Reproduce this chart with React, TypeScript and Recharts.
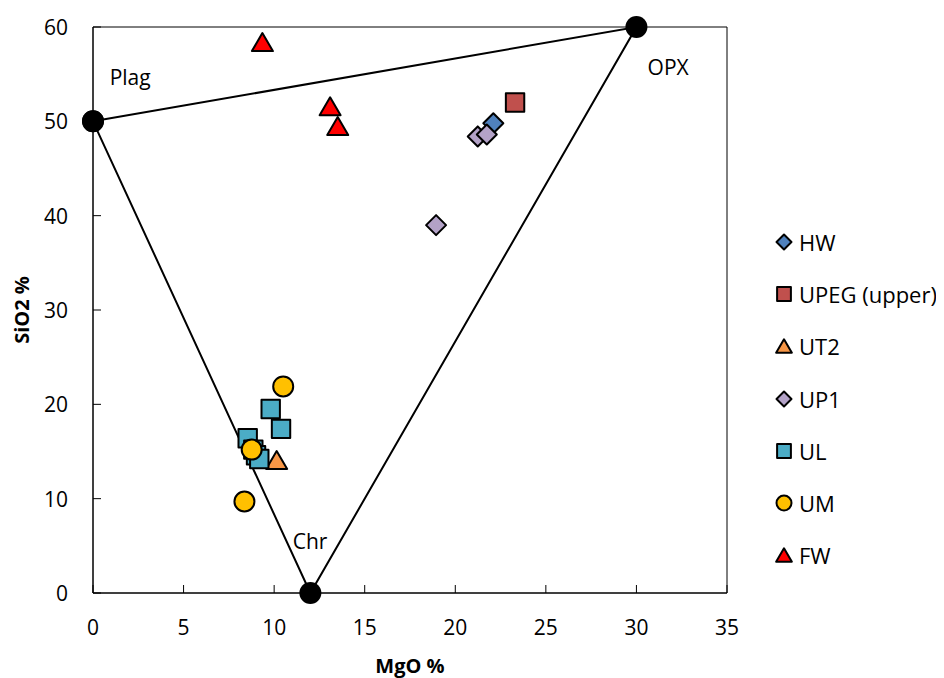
import { ScatterChart, Scatter, XAxis, YAxis, ReferenceArea, ReferenceDot, Label } from "recharts";

// Ternary end-members (closed loop: Plag -> OPX -> Chr -> Plag)
const ternary = [
  { x: 0, y: 50 },
  { x: 30, y: 60 },
  { x: 12, y: 0 },
  { x: 0, y: 50 },
];

const vertexLabels = [
  { name: "Plag", x: 2.05, y: 54.6 },
  { name: "OPX", x: 31.75, y: 55.7 },
  { name: "Chr", x: 11.98, y: 5.5 },
];

const hw = [{ x: 22.1, y: 49.8 }];
const upeg = [{ x: 23.3, y: 52.0 }];
const ut2 = [{ x: 10.14, y: 14.1 }];
const up1 = [
  { x: 21.24, y: 48.4 },
  { x: 21.74, y: 48.6 },
  { x: 18.94, y: 39.0 },
];
const ul = [
  { x: 9.81, y: 19.5 },
  { x: 10.38, y: 17.4 },
  { x: 8.54, y: 16.4 },
  { x: 8.85, y: 15.2 },
  { x: 9.0, y: 14.6 },
  { x: 9.18, y: 14.2 },
];
const um = [
  { x: 10.5, y: 21.9 },
  { x: 8.76, y: 15.2 },
  { x: 8.36, y: 9.7 },
];
const fw = [
  { x: 9.35, y: 58.4 },
  { x: 13.09, y: 51.6 },
  { x: 13.51, y: 49.5 },
];

const xTicks = [0, 5, 10, 15, 20, 25, 30, 35];
const yTicks = [0, 10, 20, 30, 40, 50, 60];

type Kind = "diamond" | "square" | "triangle" | "circle";

const series: { name: string; data: { x: number; y: number }[]; kind: Kind; color: string }[] = [
  { name: "HW", data: hw, kind: "diamond", color: "#4F81BD" },
  { name: "UPEG (upper)", data: upeg, kind: "square", color: "#C0504D" },
  { name: "UT2", data: ut2, kind: "triangle", color: "#F79646" },
  { name: "UP1", data: up1, kind: "diamond", color: "#B3A2C7" },
  { name: "UL", data: ul, kind: "square", color: "#4BACC6" },
  { name: "UM", data: um, kind: "circle", color: "#FFC000" },
  { name: "FW", data: fw, kind: "triangle", color: "#FF0000" },
];

const FONT = "'Open Sans', 'Liberation Sans', sans-serif";

function Marker({ cx, cy, kind, color, size }: { cx: number; cy: number; kind: Kind; color: string; size: number }) {
  const h = size / 2;
  const common = { fill: color, stroke: "#000", strokeWidth: 2, strokeLinejoin: "round" as const };
  if (kind === "diamond") {
    return <polygon points={`${cx},${cy - h} ${cx + h},${cy} ${cx},${cy + h} ${cx - h},${cy}`} {...common} />;
  }
  if (kind === "square") {
    const s = size * 0.92;
    return <rect x={cx - s / 2} y={cy - s / 2} width={s} height={s} {...common} />;
  }
  if (kind === "triangle") {
    const w = size * 1.05;
    const t = size * 0.9;
    return <polygon points={`${cx},${cy - t / 2} ${cx + w / 2},${cy + t / 2} ${cx - w / 2},${cy + t / 2}`} {...common} />;
  }
  return <circle cx={cx} cy={cy} r={h} {...common} />;
}

function YTick({ x, y, payload }: any) {
  return (
    <g>
      <line x1={x + 25} x2={x + 33} y1={y} y2={y} stroke="#000" strokeWidth={1} />
      <text x={x} y={y} textAnchor="end" dominantBaseline="central" fontSize={21} fill="#000" fontFamily={FONT}>
        {payload.value}
      </text>
    </g>
  );
}

function XTick({ x, y, payload }: any) {
  return (
    <g>
      <line x1={x} x2={x} y1={y - 27} y2={y - 35} stroke="#000" strokeWidth={1} />
      <text x={x} y={y} dy="0.71em" textAnchor="middle" fontSize={21} fill="#000" fontFamily={FONT}>
        {payload.value}
      </text>
    </g>
  );
}

const titleStyle = { fontSize: 20, fontWeight: 700, fill: "#000", fontFamily: FONT };

function YTitle({ viewBox }: any) {
  const cx = viewBox.x + 13;
  const cy = viewBox.y + viewBox.height / 2;
  return (
    <text x={cx} y={cy} transform={`rotate(-90, ${cx}, ${cy})`} textAnchor="middle" dominantBaseline="central" style={titleStyle}>
      SiO2 %
    </text>
  );
}

function XTitle({ viewBox }: any) {
  const cx = viewBox.x + viewBox.width / 2;
  const cy = viewBox.y + 72;
  return (
    <text x={cx} y={cy} textAnchor="middle" dominantBaseline="central" style={titleStyle}>
      MgO %
    </text>
  );
}

export default function App() {
  return (
    <div style={{ position: "relative", width: 928, height: 670, background: "#fff", fontFamily: FONT }}>
      <ScatterChart width={928} height={670} margin={{ top: 19, right: 209, bottom: 0, left: 0 }}>
        <XAxis
          type="number"
          dataKey="x"
          domain={[0, 35]}
          ticks={xTicks}
          height={85}
          tickSize={0}
          tickMargin={27}
          tickLine={false}
          axisLine={{ stroke: "#000" }}
          tick={<XTick />}
        >
          <Label content={<XTitle />} />
        </XAxis>
        <YAxis
          type="number"
          dataKey="y"
          domain={[0, 60]}
          ticks={yTicks}
          width={85}
          tickSize={0}
          tickMargin={25}
          tickLine={false}
          axisLine={{ stroke: "#000" }}
          tick={<YTick />}
        >
          <Label content={<YTitle />} />
        </YAxis>
        <ReferenceArea x1={0} x2={35} y1={0} y2={60} fill="none" stroke="#000" strokeWidth={1} />
        <Scatter
          name="ternary"
          data={ternary}
          line={{ stroke: "#000", strokeWidth: 2 }}
          isAnimationActive={false}
          shape={(p: any) => <circle cx={p.cx} cy={p.cy} r={11} fill="#000" />}
          legendType="none"
        />
        {series.map((s) => (
          <Scatter
            key={s.name}
            name={s.name}
            data={s.data}
            isAnimationActive={false}
            shape={(p: any) => <Marker cx={p.cx} cy={p.cy} kind={s.kind} color={s.color} size={20} />}
          />
        ))}
        {vertexLabels.map((v) => (
          <ReferenceDot key={v.name} x={v.x} y={v.y} r={0} stroke="none" fill="none">
            <Label value={v.name} position="center" style={{ fontSize: 21, fill: "#000", fontFamily: FONT }} />
          </ReferenceDot>
        ))}
      </ScatterChart>
      <div style={{ position: "absolute", left: 766, top: 208 }}>
        {series.map((s) => (
          <div key={s.name} style={{ display: "flex", alignItems: "center", height: 52.2 }}>
            <svg width={20} height={20} style={{ marginRight: 5 }}>
              <Marker cx={10} cy={10} kind={s.kind} color={s.color} size={15} />
            </svg>
            <span style={{ fontSize: 22, color: "#000", whiteSpace: "nowrap" }}>{s.name}</span>
          </div>
        ))}
      </div>
    </div>
  );
}
